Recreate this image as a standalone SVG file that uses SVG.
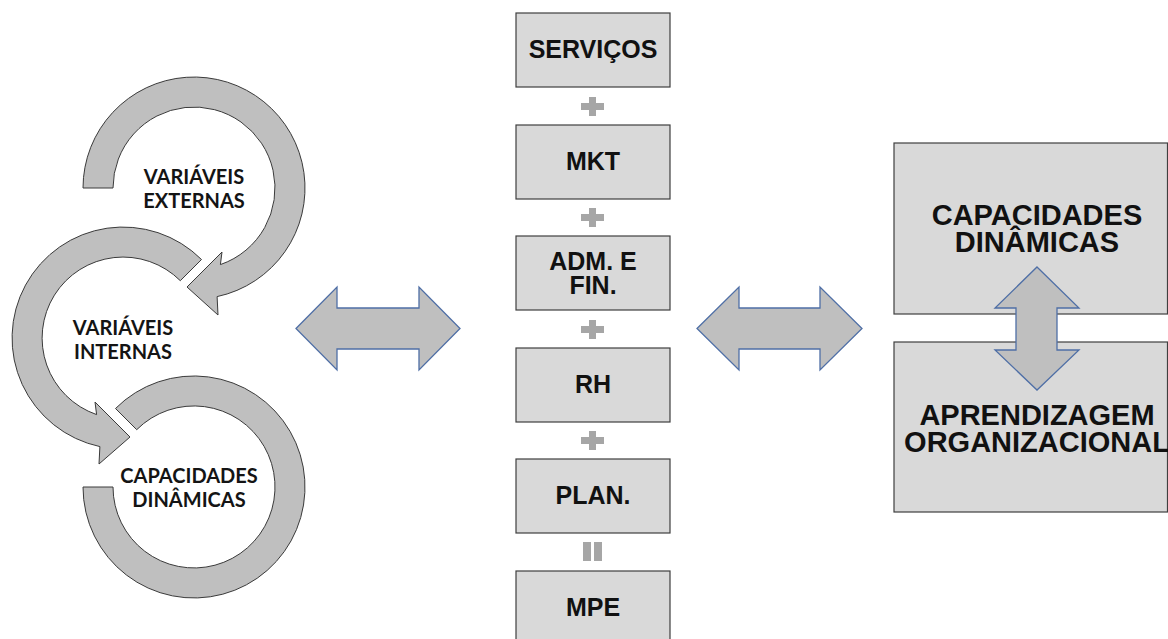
<svg xmlns="http://www.w3.org/2000/svg" width="1168" height="639" viewBox="0 0 1168 639">
  <style>
    .ring { fill: #bfbfbf; stroke: #3a3a3a; stroke-width: 1; }
    .ring-label { font-family: Lato, "Open Sans", "DejaVu Sans", sans-serif; font-weight: 700; font-size: 20px; fill: #141414; text-anchor: middle; }
    .box { fill: #d9d9d9; stroke: #3f3f3f; stroke-width: 1.2; }
    .box-label { font-family: "Liberation Sans", Arial, sans-serif; font-weight: 700; font-size: 25px; fill: #111111; text-anchor: middle; }
    .big-label { font-family: "Liberation Sans", Arial, sans-serif; font-weight: 700; font-size: 29px; fill: #111111; text-anchor: middle; }
    .op { fill: #a6a6a6; }
    .dbl { fill: #bfbfbf; stroke: #4f6fa6; stroke-width: 1.3; stroke-linejoin: miter; }
  </style>

  <rect width="1168" height="639" fill="#ffffff"/>

  <!-- Cycle of three circular arrows -->
  <g id="ring-externas">
    <path class="ring" d="M83,188 A111,111 0 1 1 217.1,296.6 L218,315 L187,287 L222,252 L220.4,264.6 A81,81 0 1 0 113,188 Z"/>
    <text class="ring-label" x="194" y="184">VARIÁVEIS</text>
    <text class="ring-label" x="194" y="208">EXTERNAS</text>
  </g>

  <g id="ring-internas">
    <path class="ring" d="M201.5,259.5 A111,111 0 1 0 99.9,446.6 L99,464 L130,437 L95,402 L96.6,414.6 A81,81 0 1 1 180.3,280.7 Z"/>
    <text class="ring-label" x="123" y="335">VARIÁVEIS</text>
    <text class="ring-label" x="123" y="359">INTERNAS</text>
  </g>

  <g id="ring-capacidades">
    <path class="ring" d="M115.5,408.5 A111,111 0 1 1 83,487 L113,487 A81,81 0 1 0 136.7,429.7 Z"/>
    <text class="ring-label" x="189" y="483">CAPACIDADES</text>
    <text class="ring-label" x="189" y="507">DINÂMICAS</text>
  </g>

  <!-- Stack of functional areas -->
  <g id="servicos">
    <rect class="box" x="516" y="13" width="154" height="74"/>
    <text class="box-label" x="593" y="58">SERVIÇOS</text>
  </g>
  <g id="mkt">
    <rect class="box" x="516" y="125" width="154" height="74"/>
    <text class="box-label" x="593" y="170">MKT</text>
  </g>
  <g id="adm-fin">
    <rect class="box" x="516" y="236" width="154" height="74"/>
    <text class="box-label" x="593" y="270">ADM. E</text>
    <text class="box-label" x="593" y="294">FIN.</text>
  </g>
  <g id="rh">
    <rect class="box" x="516" y="348" width="154" height="74"/>
    <text class="box-label" x="593" y="393">RH</text>
  </g>
  <g id="plan">
    <rect class="box" x="516" y="459" width="154" height="74"/>
    <text class="box-label" x="593" y="504">PLAN.</text>
  </g>
  <g id="mpe">
    <rect class="box" x="516" y="571" width="154" height="74"/>
    <text class="box-label" x="593" y="616">MPE</text>
  </g>

  <!-- Operators between the stacked areas -->
  <g id="operators">
    <path class="op" d="M581,103 h8 v-6 h7 v6 h8 v7 h-8 v6 h-7 v-6 h-8 Z"/>
    <path class="op" d="M581,214 h8 v-6 h7 v6 h8 v7 h-8 v6 h-7 v-6 h-8 Z"/>
    <path class="op" d="M581,326 h8 v-6 h7 v6 h8 v7 h-8 v6 h-7 v-6 h-8 Z"/>
    <path class="op" d="M581,437 h8 v-6 h7 v6 h8 v7 h-8 v6 h-7 v-6 h-8 Z"/>
    <rect class="op" x="583" y="542" width="8" height="19"/>
    <rect class="op" x="594" y="542" width="8" height="19"/>
  </g>

  <!-- Right-hand pair -->
  <g id="capacidades-dinamicas">
    <rect class="box" x="894" y="143" width="273.5" height="171"/>
    <text class="big-label" x="1037" y="225">CAPACIDADES</text>
    <text class="big-label" x="1037" y="252">DINÂMICAS</text>
  </g>
  <g id="aprendizagem">
    <rect class="box" x="894" y="342" width="273.5" height="170"/>
    <text class="big-label" x="1037" y="425">APRENDIZAGEM</text>
    <text class="big-label" x="1037" y="452">ORGANIZACIONAL</text>
  </g>

  <!-- Two-way links -->
  <g id="connectors">
    <path class="dbl" d="M296,328.5 L337,287 L337,308 L419,308 L419,287 L460,328.5 L419,370 L419,349 L337,349 L337,370 Z"/>
    <path class="dbl" d="M697,328.5 L739,287 L739,308 L820,308 L820,287 L862,328.5 L820,370 L820,349 L739,349 L739,370 Z"/>
    <path class="dbl" d="M1037,267 L1079,308 L1057,308 L1057,350 L1079,350 L1037,390 L995,350 L1016,350 L1016,308 L995,308 Z"/>
  </g>
</svg>
